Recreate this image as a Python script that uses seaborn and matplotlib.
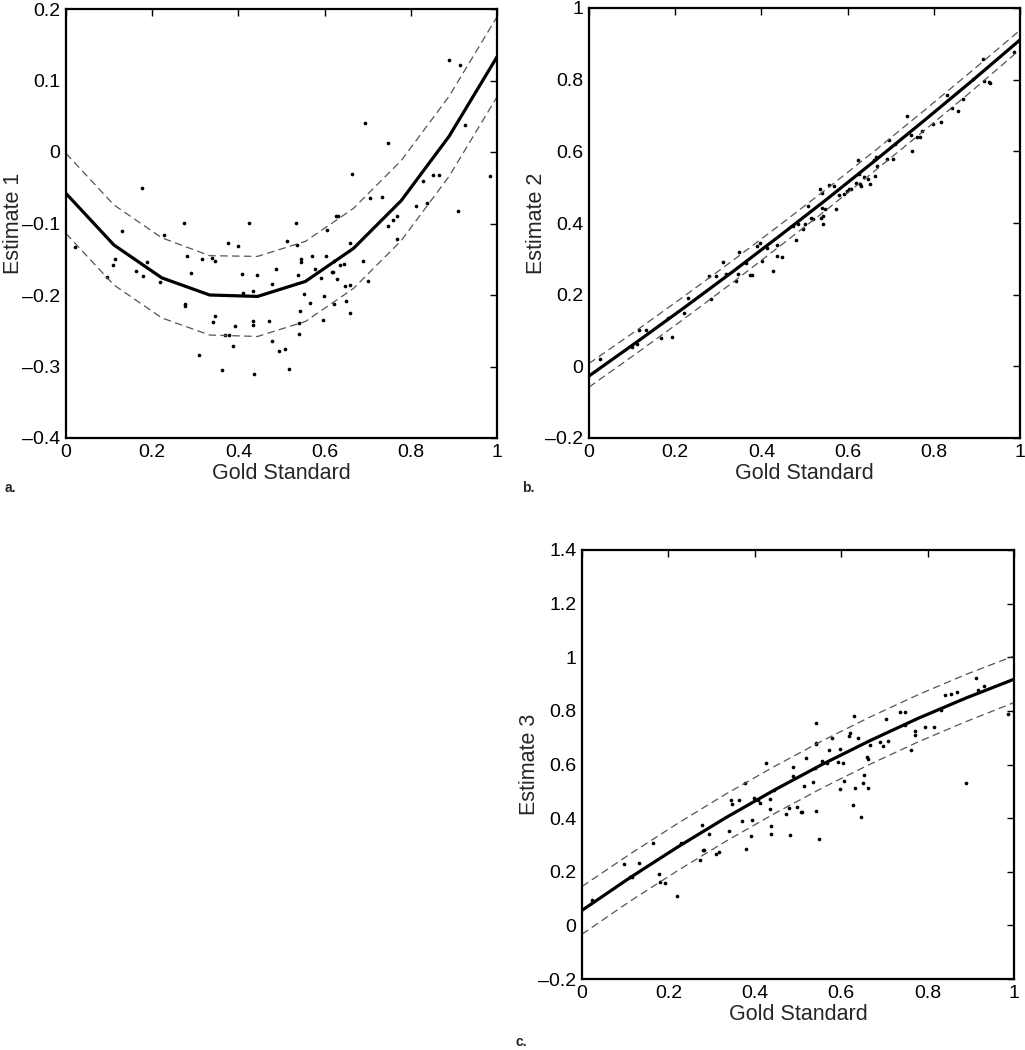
import numpy as np
import pandas as pd
import matplotlib
matplotlib.use("Agg")
import matplotlib.pyplot as plt
import seaborn as sns

# ---------------- data ----------------
fit_x = [0, 1/9, 2/9, 3/9, 4/9, 5/9, 6/9, 7/9, 8/9, 1]

a_fit = [-0.058, -0.130, -0.176, -0.200, -0.202, -0.181, -0.135, -0.068, 0.022, 0.133]
a_upper = [-0.002, -0.074, -0.120, -0.145, -0.146, -0.125, -0.079, -0.012, 0.078, 0.189]
a_lower = [-0.114, -0.186, -0.232, -0.256, -0.258, -0.237, -0.191, -0.124, -0.034, 0.077]
a_x = [0.022, 0.176, 0.131, 0.113, 0.108, 0.095, 0.163, 0.179, 0.189, 0.217, 0.227, 0.273,
       0.280, 0.291, 0.275, 0.275, 0.315, 0.339, 0.345, 0.346, 0.342, 0.309, 0.363, 0.369,
       0.379, 0.375, 0.398, 0.393, 0.388, 0.408, 0.411, 0.424, 0.433, 0.443, 0.435, 0.435,
       0.436, 0.470, 0.477, 0.479, 0.487, 0.495,
       0.507, 0.517, 0.513, 0.533, 0.536, 0.546, 0.545, 0.538, 0.542, 0.541, 0.541, 0.553,
       0.567, 0.570, 0.578, 0.591, 0.596, 0.598, 0.604, 0.605, 0.617, 0.619, 0.622, 0.622,
       0.629, 0.626, 0.630, 0.636, 0.644, 0.647, 0.650, 0.658, 0.660, 0.660, 0.664, 0.688,
       0.694, 0.701, 0.706, 0.734, 0.747, 0.747, 0.759, 0.768, 0.768, 0.812, 0.829, 0.838,
       0.851, 0.865, 0.888, 0.910, 0.915, 0.926, 0.984]
a_y = [-0.133, -0.050, -0.110, -0.149, -0.158, -0.175, -0.167, -0.174, -0.154, -0.182, -0.116, -0.099,
       -0.146, -0.169, -0.212, -0.216, -0.150, -0.148, -0.153, -0.229, -0.238, -0.284, -0.305, -0.256,
       -0.256, -0.127, -0.132, -0.244, -0.271, -0.171, -0.197, -0.099, -0.195, -0.172, -0.237, -0.242,
       -0.311, -0.236, -0.264, -0.185, -0.163, -0.279,
       -0.275, -0.303, -0.124, -0.099, -0.130, -0.150, -0.154, -0.172, -0.222, -0.239, -0.255, -0.199,
       -0.211, -0.146, -0.164, -0.176, -0.235, -0.202, -0.145, -0.109, -0.168, -0.168, -0.152, -0.212,
       -0.177, -0.090, -0.090, -0.158, -0.157, -0.188, -0.209, -0.127, -0.186, -0.225, -0.031, -0.152,
       0.041, -0.180, -0.065, -0.063, 0.012, -0.104, -0.095, -0.090, -0.122, -0.075, -0.040, -0.072,
       -0.032, -0.032, 0.129, -0.083, 0.121, 0.038, -0.034]

b_fit = [-0.027, 0.068, 0.165, 0.264, 0.366, 0.470, 0.577, 0.686, 0.797, 0.911]
b_upper = [0.008, 0.101, 0.197, 0.295, 0.396, 0.499, 0.605, 0.714, 0.825, 0.938]
b_lower = [-0.058, 0.037, 0.134, 0.234, 0.337, 0.441, 0.549, 0.658, 0.769, 0.884]
b_x = [0.026, 0.099, 0.111, 0.116, 0.132, 0.166, 0.192, 0.183, 0.220, 0.229, 0.278, 0.295,
       0.283, 0.311, 0.319, 0.342, 0.346, 0.349, 0.365, 0.373, 0.378, 0.390, 0.397, 0.401,
       0.412, 0.428, 0.436, 0.437, 0.447, 0.474, 0.480,
       0.484, 0.497, 0.501, 0.507, 0.516, 0.519, 0.536, 0.540, 0.538, 0.541, 0.544, 0.542,
       0.548, 0.557, 0.569, 0.572, 0.580, 0.592, 0.599, 0.603, 0.608, 0.619, 0.624, 0.626,
       0.628, 0.631, 0.639, 0.647, 0.652, 0.661, 0.665, 0.668, 0.664, 0.691, 0.696, 0.705,
       0.710, 0.737, 0.748, 0.750, 0.762, 0.769, 0.772, 0.797, 0.817, 0.830, 0.843, 0.855,
       0.867, 0.890, 0.913, 0.917, 0.929, 0.930, 0.985]
b_y = [0.021, 0.054, 0.061, 0.102, 0.101, 0.079, 0.082, 0.136, 0.149, 0.192, 0.251, 0.251,
       0.187, 0.290, 0.257, 0.238, 0.257, 0.319, 0.287, 0.254, 0.254, 0.336, 0.345, 0.294,
       0.329, 0.266, 0.340, 0.307, 0.305, 0.392, 0.352,
       0.397, 0.384, 0.397, 0.448, 0.413, 0.411, 0.494, 0.484, 0.413, 0.443, 0.419, 0.396,
       0.438, 0.506, 0.503, 0.440, 0.478, 0.482, 0.489, 0.495, 0.494, 0.512, 0.577, 0.536,
       0.510, 0.504, 0.527, 0.524, 0.510, 0.575, 0.585, 0.560, 0.532, 0.579, 0.631, 0.579,
       0.620, 0.700, 0.645, 0.600, 0.639, 0.639, 0.657, 0.675, 0.682, 0.757, 0.722, 0.713,
       0.745, 0.802, 0.859, 0.796, 0.794, 0.790, 0.876]

c_fit = [0.056, 0.178, 0.293, 0.402, 0.504, 0.600, 0.689, 0.772, 0.848, 0.918]
c_upper = [0.145, 0.266, 0.381, 0.490, 0.592, 0.688, 0.777, 0.860, 0.936, 1.005]
c_lower = [-0.033, 0.090, 0.205, 0.314, 0.416, 0.512, 0.601, 0.684, 0.760, 0.831]
c_x = [0.024, 0.097, 0.110, 0.115, 0.133, 0.165, 0.178, 0.181, 0.191, 0.219, 0.230, 0.273,
       0.278, 0.279, 0.283, 0.295, 0.310, 0.316, 0.340, 0.344, 0.347, 0.364, 0.371, 0.377,
       0.380, 0.391, 0.394, 0.399, 0.408, 0.412, 0.425, 0.435, 0.435, 0.438, 0.437, 0.445,
       0.472, 0.479, 0.481, 0.488,
       0.489, 0.497, 0.508, 0.510, 0.514, 0.519, 0.534, 0.540, 0.541, 0.541, 0.542, 0.541,
       0.548, 0.556, 0.568, 0.572, 0.579, 0.593, 0.597, 0.597, 0.605, 0.606, 0.618, 0.621,
       0.630, 0.627, 0.631, 0.638, 0.646, 0.650, 0.653, 0.660, 0.663, 0.663, 0.667, 0.690,
       0.697, 0.704, 0.708, 0.736, 0.748, 0.748, 0.761, 0.771, 0.771, 0.795, 0.815, 0.830,
       0.840, 0.854, 0.867, 0.889, 0.912, 0.916, 0.931, 0.985]
c_y = [0.096, 0.228, 0.180, 0.182, 0.234, 0.307, 0.193, 0.162, 0.157, 0.109, 0.307, 0.244,
       0.373, 0.282, 0.282, 0.341, 0.267, 0.275, 0.353, 0.468, 0.451, 0.466, 0.389, 0.530,
       0.284, 0.333, 0.392, 0.474, 0.466, 0.458, 0.604, 0.470, 0.435, 0.371, 0.342, 0.505,
       0.417, 0.439, 0.337, 0.556,
       0.591, 0.442, 0.424, 0.424, 0.521, 0.623, 0.535, 0.588, 0.677, 0.680, 0.755, 0.427,
       0.323, 0.613, 0.604, 0.653, 0.700, 0.608, 0.659, 0.509, 0.604, 0.540, 0.705, 0.719,
       0.781, 0.450, 0.514, 0.700, 0.404, 0.531, 0.560, 0.629, 0.619, 0.514, 0.672, 0.684,
       0.669, 0.769, 0.688, 0.796, 0.797, 0.749, 0.654, 0.725, 0.709, 0.739, 0.738, 0.803,
       0.858, 0.863, 0.869, 0.532, 0.924, 0.878, 0.894, 0.787]

x_ticks = [0, 0.2, 0.4, 0.6, 0.8, 1]
a_yticks = [-0.4, -0.3, -0.2, -0.1, 0, 0.1, 0.2]
b_yticks = [-0.2, 0, 0.2, 0.4, 0.6, 0.8, 1]
c_yticks = [-0.2, 0, 0.2, 0.4, 0.6, 0.8, 1, 1.2, 1.4]
x_label = "Gold Standard"
y_labels = ["Estimate 1", "Estimate 2", "Estimate 3"]
panel_tags = ["a.", "b.", "c."]

# ---------------- style ----------------
sns.set_style("white")
plt.rcParams["font.family"] = ["Liberation Sans", "DejaVu Sans"]
plt.rcParams["axes.unicode_minus"] = True

W, H = 1025, 1050
fig = plt.figure(figsize=(W / 100, H / 100), dpi=100)
fig.patch.set_facecolor("white")


def px_axes(x0, y0, x1, y1):
    return fig.add_axes([x0 / W, 1 - y1 / H, (x1 - x0) / W, (y1 - y0) / H])


def fmt(v):
    s = ("%g" % round(v, 3))
    return s.replace("-", "\u2013")


def draw(ax, fit, up, lo, sx, sy, yticks, ylab):
    sns.lineplot(x=fit_x, y=up, ax=ax, color="#555555", lw=0.9,
                 linestyle=(0, (6, 3.5)), sort=False)
    sns.lineplot(x=fit_x, y=lo, ax=ax, color="#555555", lw=0.9,
                 linestyle=(0, (6, 3.5)), sort=False)
    sns.lineplot(x=fit_x, y=fit, ax=ax, color="black", lw=2.3, sort=False)
    sns.scatterplot(x=sx, y=sy, ax=ax, color="black", s=7, linewidth=0, marker="o")
    ax.set_xlim(0, 1)
    ax.set_ylim(yticks[0], yticks[-1])
    ax.set_xticks(x_ticks)
    ax.set_xticklabels([fmt(v) for v in x_ticks])
    ax.set_yticks(yticks)
    ax.set_yticklabels([fmt(v) for v in yticks])
    ax.tick_params(direction="in", top=True, right=True, length=5, width=1,
                   labelsize=14, pad=4, colors="black")
    for sp in ax.spines.values():
        sp.set_visible(True)
        sp.set_linewidth(1.6)
        sp.set_color("black")
    ax.set_xlabel(x_label, fontsize=15.5, labelpad=2)
    ax.set_ylabel(ylab, fontsize=15.5)
    ax.yaxis.set_label_coords(-0.098, 0.5)
    ax.grid(False)


ax_a = px_axes(66, 9, 497, 438)
ax_b = px_axes(589, 8, 1020, 438)
ax_c = px_axes(582, 550, 1014, 979)

draw(ax_a, a_fit, a_upper, a_lower, a_x, a_y, a_yticks, y_labels[0])
draw(ax_b, b_fit, b_upper, b_lower, b_x, b_y, b_yticks, y_labels[1])
draw(ax_c, c_fit, c_upper, c_lower, c_x, c_y, c_yticks, y_labels[2])

fig.text(5 / W, 1 - 492 / H, panel_tags[0], fontsize=10, fontweight="bold", va="baseline")
fig.text(522 / W, 1 - 492 / H, panel_tags[1], fontsize=10, fontweight="bold", va="baseline")
fig.text(516 / W, 1 - 1046 / H, panel_tags[2], fontsize=10, fontweight="bold", va="baseline")

fig.savefig("out.png", dpi=100, facecolor="white")
